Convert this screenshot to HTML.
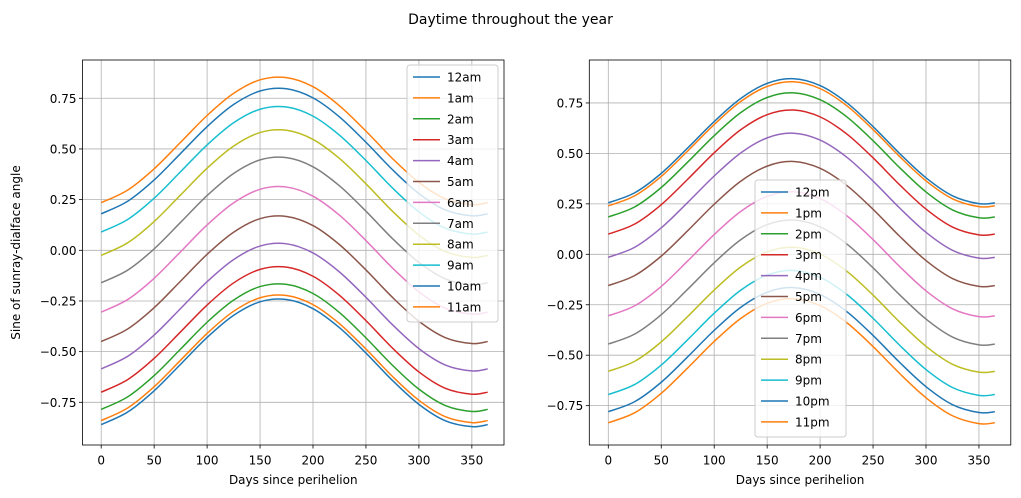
<!DOCTYPE html>
<html><head><meta charset="utf-8"><style>
body{margin:0;background:#fff;}
svg{display:block;font-family:"DejaVu Sans","Liberation Sans",sans-serif;}
</style></head><body>
<svg id="fig" width="1021" height="498"></svg>
<script>
const days=[0,25,50,75,100,125,150,175,200,225,250,275,300,325,350,365];
const leftLabels=["12am","1am","2am","3am","4am","5am","6am","7am","8am","9am","10am","11am"];
const leftSeries=[
[-.86,-.798,-.693,-.562,-.43,-.321,-.254,-.243,-.288,-.382,-.507,-.642,-.76,-.841,-.87,-.86],
[-.84,-.778,-.673,-.542,-.41,-.301,-.234,-.223,-.268,-.362,-.487,-.622,-.74,-.821,-.85,-.84],
[-.785,-.723,-.618,-.487,-.355,-.246,-.179,-.168,-.213,-.307,-.432,-.567,-.685,-.766,-.795,-.785],
[-.70,-.638,-.533,-.402,-.27,-.161,-.094,-.083,-.128,-.222,-.347,-.482,-.60,-.681,-.71,-.70],
[-.585,-.523,-.418,-.287,-.155,-.046,.021,.032,-.013,-.107,-.232,-.367,-.485,-.566,-.595,-.585],
[-.45,-.388,-.283,-.152,-.02,.089,.156,.167,.122,.028,-.097,-.232,-.35,-.431,-.46,-.45],
[-.305,-.243,-.138,-.007,.125,.234,.301,.312,.267,.173,.048,-.087,-.205,-.286,-.315,-.305],
[-.16,-.098,.007,.138,.27,.379,.446,.457,.412,.318,.193,.058,-.06,-.141,-.17,-.16],
[-.025,.037,.142,.273,.405,.514,.581,.592,.547,.453,.328,.193,.075,-.006,-.035,-.025],
[.09,.152,.257,.388,.52,.629,.696,.707,.662,.568,.443,.308,.19,.109,.08,.09],
[.18,.242,.347,.478,.61,.719,.786,.797,.752,.658,.533,.398,.28,.199,.17,.18],
[.235,.297,.402,.533,.665,.774,.841,.852,.807,.713,.588,.453,.335,.254,.225,.235]];
const rightLabels=["12pm","1pm","2pm","3pm","4pm","5pm","6pm","7pm","8pm","9pm","10pm","11pm"];
const rightSeries=[
[.255,.305,.401,.527,.658,.772,.847,.87,.836,.752,.633,.50,.379,.29,.251,.255],
[.24,.29,.386,.512,.643,.757,.832,.855,.821,.737,.618,.485,.364,.275,.236,.24],
[.185,.235,.331,.457,.588,.702,.777,.80,.766,.682,.563,.43,.309,.22,.181,.185],
[.10,.15,.246,.372,.503,.617,.692,.715,.681,.597,.478,.345,.224,.135,.096,.10],
[-.015,.035,.131,.257,.388,.502,.577,.60,.566,.482,.363,.23,.109,.02,-.019,-.015],
[-.155,-.105,-.009,.117,.248,.362,.437,.46,.426,.342,.223,.09,-.031,-.12,-.159,-.155],
[-.305,-.255,-.159,-.033,.098,.212,.287,.31,.276,.192,.073,-.06,-.181,-.27,-.309,-.305],
[-.445,-.395,-.299,-.173,-.042,.072,.147,.17,.136,.052,-.067,-.20,-.321,-.41,-.449,-.445],
[-.58,-.53,-.434,-.308,-.177,-.063,.012,.035,.001,-.083,-.202,-.335,-.456,-.545,-.584,-.58],
[-.695,-.645,-.549,-.423,-.292,-.178,-.103,-.08,-.114,-.198,-.317,-.45,-.571,-.66,-.699,-.695],
[-.78,-.73,-.634,-.508,-.377,-.263,-.188,-.165,-.199,-.283,-.402,-.535,-.656,-.745,-.784,-.78],
[-.835,-.785,-.689,-.563,-.432,-.318,-.243,-.22,-.254,-.338,-.457,-.59,-.711,-.80,-.839,-.835]];
const xTicks=[0,50,100,150,200,250,300,350];
const yTicks=[-0.75,-0.5,-0.25,0,0.25,0.5,0.75];
const colors=["#1f77b4","#ff7f0e","#2ca02c","#d62728","#9467bd","#8c564b","#e377c2","#7f7f7f","#bcbd22","#17becf","#1f77b4","#ff7f0e"];
const NS="http://www.w3.org/2000/svg";
const svg=document.getElementById('fig');
function mk(tag,attrs,parent){const e=document.createElementNS(NS,tag);for(const k in attrs)e.setAttribute(k,attrs[k]);(parent||svg).appendChild(e);return e;}
function fmt(v){return (v<0?"\u2212":"")+Math.abs(v).toFixed(2);}
function path(pts){let d="M"+pts[0][0]+","+pts[0][1];
 for(let i=0;i<pts.length-1;i++){const p0=pts[Math.max(0,i-1)],p1=pts[i],p2=pts[i+1],p3=pts[Math.min(pts.length-1,i+2)];
 const c1=[p1[0]+(p2[0]-p0[0])/6,p1[1]+(p2[1]-p0[1])/6],c2=[p2[0]-(p3[0]-p1[0])/6,p2[1]-(p3[1]-p1[1])/6];
 d+=" C"+c1+" "+c2+" "+p2;}return d;}
function panel(name,L,R,T,B,x0,xs,y0,ys,series,labels,leg,showYLabel){
 const g=mk('g',{});
 
 
 const X=d=>x0+d*xs, Y=v=>y0-v*ys;
 xTicks.forEach(t=>{const x=X(t);
  const l=mk('line',{x1:x,x2:x,y1:T,y2:B,stroke:'#b0b0b0','stroke-width':0.8},g);
  
  mk('line',{x1:x,x2:x,y1:B,y2:B+3.5,stroke:'#000','stroke-width':0.8},g);
  const tx=mk('text',{x:x,y:B+19.5,'font-size':12,'text-anchor':'middle'},g);tx.textContent=t;
  });
 yTicks.forEach(t=>{const y=Y(t);
  const l=mk('line',{x1:L,x2:R,y1:y,y2:y,stroke:'#b0b0b0','stroke-width':0.8},g);
  
  mk('line',{x1:L-3.5,x2:L,y1:y,y2:y,stroke:'#000','stroke-width':0.8},g);
  const tx=mk('text',{x:L-6,y:y+4.5,'font-size':12,'text-anchor':'end'},g);tx.textContent=fmt(t);
  });
 series.forEach((s,i)=>{const p=mk('path',{d:path(s.map((v,j)=>[X(days[j]),Y(v)])),fill:'none',stroke:colors[i],'stroke-width':1.5},g);
  });
 const fr=mk('rect',{x:L,y:T,width:R-L,height:B-T,fill:'none',stroke:'#000','stroke-width':0.8},g);
 
 const xl=mk('text',{x:(L+R)/2,y:B+39,'font-size':12,'text-anchor':'middle'},g);xl.textContent='Days since perihelion';
 
 if(showYLabel){const yl=mk('text',{x:0,y:0,'font-size':12,'text-anchor':'middle',transform:`translate(20,${(T+B)/2}) rotate(-90)`},g);yl.textContent='Sine of sunray-dialface angle';
  }
 const lg=mk('g',{},g);
 
 mk('rect',{x:leg[0],y:leg[1],width:91,height:257,rx:3,fill:'#fff','fill-opacity':0.8,stroke:'#ccc','stroke-width':1},lg);
 labels.forEach((lb,i)=>{const y=leg[1]+12+i*20.9;
  const e=mk('g',{},lg);
  
  mk('line',{x1:leg[0]+6,x2:leg[0]+33,y1:y,y2:y,stroke:colors[i],'stroke-width':1.5},e);
  const t=mk('text',{x:leg[0]+40,y:y+4.5,'font-size':12},e);t.textContent=lb;});
}
const ttl=mk('text',{x:510.5,y:24,'font-size':14,'text-anchor':'middle'});ttl.textContent='Daytime throughout the year';

panel('left-chart',82.5,504,60,445,101.2,1.059,250.3,202.7,leftSeries,leftLabels,[407,65],true);
panel('right-chart',589.3,1010.8,60,445,608.3,1.059,254.3,201.8,rightSeries,rightLabels,[755,180],false);
</script>
</body></html>
